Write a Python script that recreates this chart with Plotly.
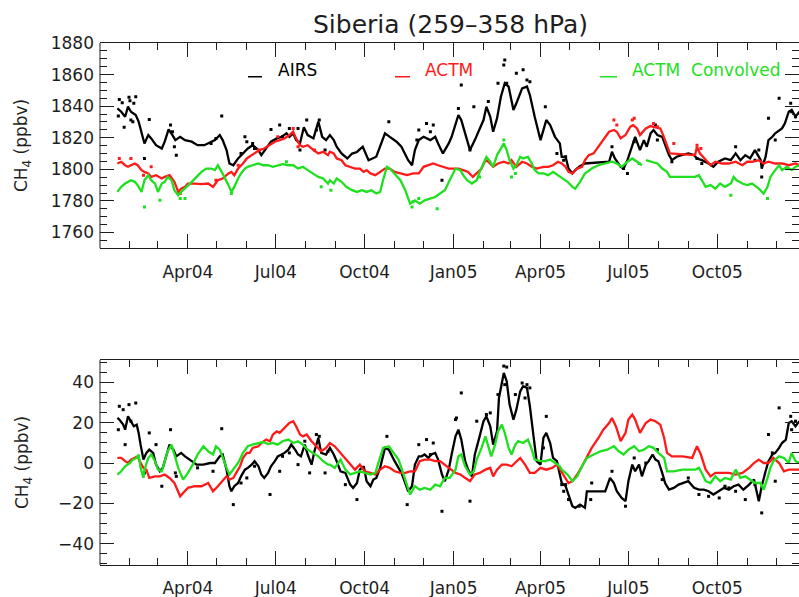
import pandas as pd
import plotly.graph_objects as go

# ---------------------------------------------------------------------------
# Data: days since 2004-01-01 and CH4 values (ppbv)
# ---------------------------------------------------------------------------
BASE = pd.Timestamp("2004-01-01")

# Upper panel: smoothed mixing ratios
TOP_AIRS_DAYS = [18, 22, 26, 29, 32, 37, 40, 44, 46, 50, 53, 58, 64, 67, 71, 75, 78, 83, 88, 95,
                 101, 108, 115, 119, 124, 127, 131, 134, 138, 143, 148, 153, 158, 164, 167, 172, 177, 183, 188, 193,
                 196, 200, 203, 207, 211, 215, 221, 226, 230, 234,
                 238, 242, 245, 250, 256, 261, 266, 272, 278, 286, 295, 300, 307, 312, 319, 323, 326, 330, 335, 342,
                 347, 350, 355, 361, 364, 371, 374, 380, 383, 388, 397, 400, 404, 407, 411, 415, 419, 423, 428, 431,
                 437, 442, 445, 450, 456, 462, 466, 471, 476,
                 478, 482, 485, 489, 492, 496, 502, 527, 530, 533, 539, 542, 546, 551, 554, 559, 563, 566, 570, 573,
                 577, 582, 585, 589, 592, 597, 602, 609, 615, 618, 623, 630, 635, 640, 647, 653, 658, 663, 668, 673,
                 678, 684, 685, 689, 692, 696, 699, 703, 706, 709, 713, 716, 720, 724]
TOP_AIRS_VALS = [1838.6, 1836.5, 1833.3, 1839.7, 1836.5, 1834.4, 1830.2, 1820.6, 1816.4, 1821.7,
                 1819.6, 1815.3, 1813.2, 1817.5, 1825.3, 1821.7, 1818.5, 1820.6, 1818.5, 1817.5,
                 1815.3, 1815.3, 1817.5, 1818.5, 1821.7, 1818.5, 1812.2, 1803.7, 1802.6, 1806.9,
                 1810.0, 1813.2, 1815.3, 1812.2, 1809.0, 1813.2, 1817.5, 1819.6, 1820.6, 1822.8,
                 1820.6, 1822.8, 1818.5, 1816.4, 1826.6, 1821.7, 1819.6, 1830.2, 1820.6, 1818.5,
                 1821.7, 1818.5, 1814.3, 1810.1, 1806.9, 1810.0, 1811.0, 1814.3, 1805.8, 1808.0,
                 1822.8, 1820.6, 1817.5, 1814.3, 1805.8, 1802.6, 1812.2, 1818.5, 1820.6, 1818.5,
                 1820.6, 1816.4, 1810.1, 1816.4, 1820.6, 1834.4, 1831.2, 1818.5, 1812.2, 1818.5,
                 1831.2, 1839.7, 1833.3, 1823.8, 1832.3, 1846.0, 1854.5, 1852.4, 1837.6, 1841.8,
                 1851.3, 1852.4, 1847.1, 1833.3, 1818.5, 1831.2, 1828.0, 1820.6, 1816.4,
                 1807.9, 1807.9, 1800.5, 1797.4, 1799.5, 1801.6, 1803.7, 1804.8, 1811.1, 1806.9,
                 1801.6, 1800.5, 1805.8, 1814.3, 1820.6, 1812.2, 1818.5, 1814.3, 1822.8, 1824.9,
                 1821.7, 1820.6, 1815.3, 1809.0, 1805.8, 1808.0, 1809.0, 1810.1, 1809.0, 1806.9,
                 1805.8, 1803.7, 1801.6, 1804.8, 1806.9, 1805.8, 1810.1, 1805.8, 1809.0, 1806.9,
                 1812.2, 1805.8, 1800.5, 1807.9, 1818.5, 1820.6, 1822.8, 1824.9, 1825.9, 1829.1,
                 1836.5, 1837.6, 1833.3, 1836.5]

TOP_ACTM_DAYS = [18, 22, 26, 29, 32, 36, 39, 43, 46, 50, 53, 58, 64, 67, 72, 77, 81, 84, 88, 91,
                 98, 105, 112, 117, 122, 127, 133, 136, 139, 143, 148, 152, 157, 160, 165, 170, 176, 181, 186, 191,
                 196, 200, 203, 207, 210, 215, 221, 226, 231, 236,
                 238, 242, 245, 250, 254, 259, 264, 269, 273, 276, 280, 285, 290, 295, 300, 305, 311, 318, 324, 330,
                 335, 340, 345, 350, 355, 361, 366, 371, 376, 381, 386, 392, 395, 399, 402, 407, 412, 418, 423, 426,
                 431, 437, 442, 447, 452, 459, 464, 469, 474,
                 478, 482, 485, 489, 494, 499, 502, 506, 511, 516, 521, 527, 532, 535, 539, 544, 549, 552, 556, 559,
                 565, 570, 575, 580, 583, 587, 590, 616, 618, 621, 627, 632, 637, 644, 651, 658, 665, 670, 675, 682,
                 687, 692, 699, 706, 713, 720, 724]
TOP_ACTM_VALS = [1803.7, 1804.8, 1802.6, 1801.6, 1802.6, 1803.7, 1802.6, 1799.5, 1798.4, 1797.4,
                 1795.2, 1796.3, 1794.2, 1795.2, 1796.3, 1792.1, 1785.7, 1787.8, 1788.9, 1791.0,
                 1791.0, 1790.6, 1791.0, 1788.9, 1793.1, 1794.2, 1797.4, 1798.4, 1796.3, 1800.5,
                 1803.7, 1806.9, 1809.0, 1810.1, 1812.2, 1813.2, 1815.3, 1817.5, 1818.5, 1819.6,
                 1821.7, 1823.8, 1819.6, 1815.3, 1814.3, 1815.3, 1812.2, 1810.1, 1811.1, 1809.0,
                 1811.1, 1810.1, 1806.9, 1805.8, 1802.6, 1801.6, 1800.5, 1800.5, 1798.4, 1799.5,
                 1797.4, 1796.3, 1798.4, 1800.5, 1800.5, 1798.4, 1797.4, 1796.3, 1797.4, 1797.4,
                 1801.6, 1802.6, 1803.7, 1802.6, 1801.6, 1800.5, 1800.5, 1800.5, 1799.5, 1798.4,
                 1795.2, 1798.4, 1800.5, 1805.8, 1804.8, 1801.6, 1803.7, 1804.8, 1803.7, 1805.8,
                 1801.6, 1804.8, 1803.7, 1801.6, 1800.5, 1801.6, 1801.6, 1802.6, 1804.8,
                 1803.7, 1801.6, 1798.4, 1797.4, 1800.5, 1801.6, 1805.8, 1809.0, 1810.1, 1814.3,
                 1818.5, 1823.8, 1824.9, 1823.8, 1819.6, 1821.7, 1827.0, 1828.0, 1825.9, 1821.7,
                 1825.9, 1827.4, 1826.6, 1825.9, 1821.7, 1814.3, 1810.1, 1809.0, 1814.3, 1810.1,
                 1805.8, 1802.6, 1804.8, 1803.7, 1803.7, 1804.8, 1802.6, 1804.8, 1804.8, 1805.8,
                 1803.7, 1804.8, 1803.7, 1803.7, 1802.6, 1803.7, 1802.6]

# None marks the break in the convolved record
TOP_CONV_DAYS = [18, 22, 26, 29, 32, 36, 39, 43, 46, 50, 53, 57, 60, 64, 67, 70, 74, 77, 81, 84,
                 89, 95, 100, 105, 110, 115, 119, 122, 126, 129, 133, 136, 139, 143, 146, 150, 153, 158, 164, 169,
                 174, 179, 184, 189, 195, 200, 205, 210, 215, 221, 226, 231, 236,
                 238, 242, 245, 250, 255, 261, 266, 271, 276, 281, 286, 290, 293, 297, 300, 305, 311, 316, 321, 326,
                 331, 336, 342, 347, 352, 357, 362, 368, 373, 376, 380, 385, 390, 393, 397, 400, 404, 407, 411, 414,
                 418, 421, 424, 428, 431, 435, 438, 443, 447, 450, 454, 459, 464, 469, 474,
                 478, 484, 489, 492, 497, 502, 509, 516, 523, 530, 535, 540, 546, 551, 556, 561, 563,
                 565, 572, 577, 582, 587, 590, 616, 620, 623, 627, 632, 637, 642, 647, 653, 656, 659, 665, 670, 675,
                 682, 687, 691, 694, 699, 703, 706, 711, 716, 720, 724]
TOP_CONV_VALS = [1785.7, 1788.9, 1791.0, 1792.1, 1793.1, 1792.1, 1790.0, 1785.7, 1793.1, 1796.3,
                 1793.1, 1791.0, 1785.7, 1791.0, 1792.1, 1795.2, 1793.1, 1786.8, 1783.6, 1785.7,
                 1788.9, 1792.1, 1795.2, 1798.4, 1800.5, 1800.5, 1799.5, 1802.6, 1798.4, 1795.2,
                 1790.0, 1785.7, 1788.9, 1794.2, 1797.4, 1800.5, 1801.6, 1802.6, 1803.7, 1802.6,
                 1802.6, 1801.6, 1802.6, 1803.3, 1802.6, 1802.6, 1800.5, 1801.6, 1799.5, 1797.4,
                 1795.2, 1794.2, 1791.0,
                 1793.1, 1791.0, 1794.2, 1792.1, 1788.9, 1786.8, 1785.7, 1786.8, 1785.7, 1786.8,
                 1784.7, 1785.7, 1793.1, 1801.6, 1800.5, 1797.4, 1793.1, 1786.8, 1778.3, 1780.4,
                 1778.3, 1780.4, 1781.5, 1782.5, 1784.7, 1786.8, 1793.1, 1800.5, 1799.5, 1796.3,
                 1793.1, 1791.0, 1793.1, 1798.4, 1803.7, 1807.9, 1804.8, 1801.6, 1809.0, 1812.2,
                 1816.4, 1812.2, 1805.8, 1800.5, 1802.6, 1807.9, 1806.9, 1807.9, 1803.7, 1799.5,
                 1797.4, 1797.4, 1796.3, 1798.4, 1796.3,
                 1794.2, 1792.1, 1788.9, 1787.8, 1792.1, 1797.4, 1800.5, 1802.6, 1803.7, 1804.8,
                 1803.7, 1801.6, 1804.8, 1806.9, 1804.8, 1802.6, None,
                 1805.8, 1804.8, 1803.7, 1800.5, 1798.4, 1795.2, 1795.2, 1796.3, 1793.1, 1788.9,
                 1790.0, 1787.8, 1791.0, 1788.9, 1791.0, 1795.2, 1793.1, 1791.0, 1790.0, 1791.0,
                 1787.8, 1784.7, 1788.9, 1795.2, 1799.5, 1802.6, 1799.5, 1801.6, 1799.5, 1801.6,
                 1802.6]

# Upper panel: individual daily values
TOP_AIRS_DOT_DAYS = [19, 20, 23, 25, 30, 31, 32, 34, 35, 37, 46, 51, 73, 75, 77, 79, 115, 120, 126, 146,
                     150, 152, 158, 160, 177, 186, 189, 196, 205, 207, 214, 224, 227, 233,
                     299, 328, 330, 338, 342, 345, 354, 371, 374, 383, 387, 402, 412, 418, 419, 421,
                     431, 438, 442, 445, 461, 473, 480,
                     482, 530, 542, 546, 553, 575, 577, 592, 618, 623, 658, 678, 682, 685, 692, 699,
                     703, 715, 716, 720]
TOP_AIRS_DOT_VALS = [1833.8, 1844.3, 1842.2, 1826.6, 1845.6, 1843.5, 1831.2, 1830.2, 1841.8, 1846.0,
                     1806.9, 1831.6, 1828.0, 1823.8, 1814.3, 1809.0, 1816.4, 1819.6, 1833.8, 1810.1,
                     1820.6, 1817.5, 1816.4, 1813.2, 1825.3, 1828.0, 1820.6, 1825.9, 1825.9, 1812.2,
                     1831.2, 1824.9, 1831.2, 1812.2,
                     1830.2, 1818.5, 1824.9, 1829.1, 1823.8, 1828.0, 1793.1, 1838.6, 1853.4, 1812.2,
                     1839.7, 1842.9, 1854.5, 1866.1, 1869.3, 1854.5, 1860.8, 1863.0, 1856.6, 1855.5,
                     1839.7, 1810.1, 1805.8,
                     1807.9, 1814.3, 1800.5, 1797.4, 1817.5, 1828.0, 1818.5, 1804.8, 1806.9, 1803.7,
                     1814.3, 1805.8, 1812.2, 1795.2, 1832.3, 1818.5, 1845.0, 1841.8, 1836.5, 1833.3]

TOP_ACTM_DOT_DAYS = [20, 32, 45, 53, 83, 120, 143, 164, 184, 200, 205, 222,
                     532, 535, 551, 553, 573, 577, 594, 618, 622]
TOP_ACTM_DOT_VALS = [1806.9, 1806.9, 1796.3, 1801.6, 1784.7, 1793.1, 1802.6, 1812.2, 1820.6, 1825.9,
                     1814.3, 1812.2,
                     1831.2, 1828.0, 1831.2, 1832.3, 1829.1, 1827.0, 1816.4, 1815.3, 1813.2]

TOP_CONV_DOT_DAYS = [46, 62, 83, 88, 136, 193, 229, 239, 323, 330, 349, 324, 418, 426, 430, 393,
                     653, 691, 558]
TOP_CONV_DOT_VALS = [1776.2, 1780.4, 1781.5, 1781.5, 1784.7, 1804.8, 1788.9, 1786.8, 1776.2, 1781.5,
                     1775.1, 1779.4, 1818.5, 1795.2, 1797.4, 1795.2, 1783.6, 1781.5, 1803.7]

# Lower panel: smoothed anomalies (ppbv)
BOT_AIRS_DAYS = [18, 20, 24, 26, 29, 32, 35, 38, 40, 42, 45, 48, 51, 55, 58, 62, 65, 69, 72, 76,
                 79, 84, 88, 95, 100, 107, 114, 119, 124, 127, 131, 134, 136, 139, 143, 146, 150, 153, 157, 160,
                 164, 167, 170, 174, 177, 181, 184, 188, 191, 195, 198, 202, 205, 208, 212, 215, 219, 222, 226, 229,
                 234,
                 238, 242, 245, 249, 254, 259, 262, 266, 269, 273, 276, 280, 283, 286, 290, 295, 299, 302, 305, 309,
                 312, 316, 319, 323, 326, 330, 333, 336, 340, 343, 347, 350, 354, 357, 361, 364, 368, 371, 374, 378,
                 381, 385, 388, 393, 397, 400, 404, 407, 411, 413, 418, 421, 424, 428, 431, 435, 438, 442, 445, 449,
                 452, 456, 459, 462, 466, 469, 473, 476,
                 478, 482, 485, 489, 492, 497, 502, 504, 523, 528, 532, 535, 540, 544, 547, 551, 554, 558, 561, 565,
                 568, 572, 575, 578, 582, 585, 589, 594, 599, 604, 609, 615, 620, 625, 630, 635, 641, 646, 651, 656,
                 661, 666, 672, 677, 682, 685, 689, 692, 696, 699, 703, 706, 710, 713, 716, 720, 724]
BOT_AIRS_VALS = [22.3, 21.5, 19.0, 16.5, 23.1, 20.7, 18.2, 19.0, 14.9, 9.1,
                 1.7, 5.0, 6.6, 5.0, -0.8, -4.1, -2.4, 4.2, 9.1, 6.6,
                 3.3, 5.0, 3.3, 0.9, -0.8, -0.8, 0.0, 0.0, 3.3, 4.2,
                 -3.3, -11.5, -14.0, -11.5, -9.9, -6.6, -3.3, -2.4, -0.8, 0.9,
                 -1.6, -5.7, -7.4, -4.9, -1.6, 0.9, 3.3, 4.2, 5.0, 6.6,
                 9.1, 6.6, 4.2, 3.3, 9.1, 4.2, -0.8, 5.8, 12.4, 5.0,
                 4.2,
                 7.5, 4.2, 0.9, -4.1, -4.9, -10.7, -12.3, -9.9, -3.3, -1.6,
                 -9.0, -11.5, -8.2, -7.4, -2.4, 7.5, 6.6, 3.3, 0.9, -2.4,
                 -4.9, -9.9, -14.0, -11.5, -0.8, 3.3, 3.3, 4.2, 2.5, 4.2,
                 5.0, 1.7, -5.7, -9.0, -3.3, 4.2, 13.2, 16.5, 11.6, 0.9,
                 -3.3, -6.6, 4.2, 13.2, 20.7, 23.1, 18.2, 9.1, 15.7, 32.2,
                 44.6, 40.5, 28.9, 21.5, 26.4, 35.5, 38.0, 37.2, 28.1, 12.4,
                 0.9, -0.8, 12.4, 14.9, 9.9, 2.5, 0.9, -5.7,
                 -9.9, -11.5, -15.6, -21.4, -22.2, -20.6, -22.2, -14.0, -14.0, -7.4,
                 -9.9, -14.0, -17.3, -18.9, -9.0, -0.8, -4.1, -0.8, -6.6, -0.8,
                 0.9, 4.2, 1.7, 0.9, -4.9, -9.9, -13.2, -12.3, -10.7, -9.9,
                 -9.0, -12.3, -13.2, -13.2, -14.0, -15.6, -14.0, -12.3, -13.2, -11.5,
                 -10.7, -13.2, -10.7, -8.2, -18.9, -11.5, -4.1, 0.9, 4.2, 5.0,
                 7.5, 9.9, 11.6, 19.8, 20.7, 18.2, 20.7]

BOT_ACTM_DAYS = [18, 22, 26, 29, 32, 36, 39, 41, 45, 48, 51, 57, 62, 67, 72, 77, 83, 86, 91, 98,
                 105, 112, 117, 122, 127, 131, 134, 138, 141, 145, 148, 152, 155, 158, 164, 167, 172, 176, 179, 183,
                 186, 189, 193, 196, 200, 203, 207, 210, 214, 219, 224, 229, 234,
                 238, 243, 249, 254, 259, 264, 269, 274, 280, 285, 290, 295, 300, 305, 311, 316, 321, 326, 331, 336,
                 342, 347, 352, 357, 362, 368, 373, 378, 383, 388, 393, 399, 404, 407, 411, 416, 421, 426, 431, 435,
                 440, 445, 450, 456, 462, 468, 473,
                 478, 482, 485, 489, 494, 499, 504, 509, 516, 521, 527, 530, 534, 539, 544, 547, 551, 554, 559, 565,
                 570, 575, 580, 584, 587, 592, 603, 613, 618, 622, 627, 632, 637, 644, 651, 658, 665, 672, 677, 682,
                 687, 692, 697, 703, 708, 713, 720, 724]
BOT_ACTM_VALS = [2.5, 2.5, 0.9, 0.0, 1.7, 2.5, 3.3, 0.9, -2.4, -3.3,
                 -7.4, -6.6, -6.6, -5.7, -7.4, -9.9, -16.5, -14.8, -12.3, -11.5,
                 -11.5, -9.9, -14.0, -11.5, -9.0, -6.6, -8.2, -7.4, -4.9, -1.6,
                 2.5, 5.0, 5.0, 7.5, 8.3, 9.9, 11.6, 10.8, 14.1, 15.7,
                 14.9, 16.5, 18.2, 19.8, 20.7, 18.2, 14.1, 13.2, 14.1, 10.8,
                 8.3, 5.8, 7.5,
                 9.9, 8.3, 5.0, 2.5, -0.8, -3.3, -0.8, -4.1, -4.9, -5.7,
                 -3.3, -1.6, -2.4, -4.1, -4.9, -4.9, -4.1, -4.1, 0.9, 1.7,
                 1.7, 0.9, 0.9, -0.8, -2.4, -4.9, -5.7, -7.4, -9.0, -5.7,
                 -4.9, -3.3, -2.4, -6.6, -3.3, -0.8, -0.8, -1.6, 0.9, 2.5,
                 -0.8, -4.9, -4.9, -2.4, -3.3, -2.4, -0.8,
                 -4.5, -7.4, -9.9, -9.0, -5.7, -1.6, 3.3, 7.5, 12.4, 16.5,
                 19.8, 22.3, 18.2, 10.8, 14.9, 21.5, 24.0, 21.5, 14.9, 19.8,
                 21.5, 20.7, 19.0, 12.4, 5.0, 3.3, 3.3, 2.5, 8.3, 4.2,
                 -3.3, -6.6, -4.9, -4.9, -4.9, -5.7, -4.9, -2.4, 0.0, 1.7,
                 0.0, 0.0, 2.5, 0.0, -4.1, -3.3, -3.3, -3.3]

BOT_CONV_DAYS = [18, 22, 26, 31, 34, 38, 40, 42, 45, 46, 50, 53, 57, 60, 64, 67, 70, 74, 77, 81,
                 86, 91, 96, 101, 107, 112, 117, 120, 124, 127, 131, 134, 138, 143, 148, 153, 158, 164, 169, 174,
                 179, 184, 189, 195, 200, 205, 210, 215, 221, 226, 231, 236,
                 238, 243, 249, 254, 259, 264, 269, 274, 280, 285, 290, 293, 299, 304, 309, 312, 318, 321, 326, 331,
                 336, 342, 347, 352, 357, 362, 368, 371, 374, 378, 383, 387, 390, 395, 399, 402, 405, 409, 412, 416,
                 419, 423, 426, 430, 433, 438, 443, 447, 450, 456, 461, 466, 471, 476,
                 478, 484, 489, 494, 499, 504, 511, 518, 525, 532, 537, 542, 547, 553, 558, 563, 568, 573, 578, 584,
                 587, 594, 603, 611, 616, 620, 623, 627, 632, 637, 642, 647, 653, 658, 663, 668, 673, 678, 684, 687,
                 691, 694, 697, 703, 708, 713, 716, 720, 724]
BOT_CONV_VALS = [-5.7, -4.1, -1.6, 0.0, 1.7, 2.5, 4.2, -2.4, -7.4, -3.3,
                 2.5, 4.2, 0.9, -3.3, -4.1, 0.9, 5.8, 9.1, 4.2, -2.4,
                 -8.2, -4.9, -0.8, 4.2, 8.3, 5.8, 4.2, 8.3, 6.6, 2.5,
                 -2.4, -5.7, -3.3, 0.0, 5.0, 8.3, 9.1, 9.9, 10.4, 9.4,
                 9.9, 9.1, 10.8, 11.6, 9.9, 10.8, 9.1, 6.6, 5.0, 3.3,
                 0.9, -0.8,
                 -0.8, -2.4, 1.7, -3.3, -5.7, -4.9, -4.1, -4.9, -5.7, -4.9,
                 2.5, 7.5, 8.3, 5.0, 1.7, -2.4, -10.7, -15.6, -11.5, -13.2,
                 -12.3, -13.2, -10.7, -11.5, -7.4, -7.4, -3.3, 3.3, 4.2, -1.6,
                 -5.7, -4.1, 1.7, 7.5, 13.2, 7.5, 3.3, 9.1, 15.7, 19.0,
                 14.9, 7.5, 4.2, 9.1, 10.8, 9.9, 11.6, 6.6, 1.7, 0.9,
                 0.9, 1.7, 0.0, -1.6,
                 -3.3, -5.7, -9.0, -6.6, -1.6, 2.5, 4.2, 5.8, 6.6, 8.3,
                 5.8, 4.2, 6.6, 8.3, 5.8, 6.6, 8.3, 7.5, 5.0, 2.5,
                 -4.1, -4.1, -3.3, -3.3, -3.3, -2.4, -4.9, -9.0, -9.9, -6.6,
                 -9.0, -7.4, -8.2, -3.3, -7.4, -6.6, -8.2, -9.9, -9.9, -13.2,
                 -7.4, -2.4, 0.9, 3.3, 2.5, 0.0, 5.0, 0.9, 0.0]

# Lower panel: individual daily AIRS anomalies
BOT_AIRS_DOT_DAYS = [20, 24, 30, 37, 32, 26, 19, 46, 51, 58, 64, 73, 78, 79, 126, 117, 101, 138, 146, 152,
                     160, 176, 186, 189, 196, 205, 212, 217, 224, 227, 233, 236,
                     297, 330, 338, 345, 342, 354, 368, 369, 374, 383, 390, 400, 404, 412, 418, 421, 419, 430,
                     437, 442, 445, 440, 462, 459, 478, 480, 318, 254, 266,
                     482, 485, 496, 508, 509, 530, 544, 553, 565, 577, 582, 609, 620, 630, 641, 651, 658, 668,
                     678, 685, 692, 699, 703, 715, 716, 720, 696, 647]
BOT_AIRS_DOT_VALS = [28.1, 26.4, 28.9, 29.7, 20.7, 9.1, 16.5, -4.9, 14.9, 9.1, -11.5, 16.5, -4.9, -6.6,
                     17.0, -4.1, -2.4, -20.6, -9.9, -7.4, -1.6, -15.6, -4.1, 3.3, 5.0, -0.8, 10.8, -4.9,
                     14.1, 13.2, -4.9, 5.8,
                     13.2, 9.1, 11.6, 9.9, 4.2, -23.9, 21.5, 22.3, 34.7, -18.9, 20.7, 24.0, 24.8, 33.9,
                     48.0, 47.5, 38.8, 33.9, 39.6, 38.8, 37.2, 32.2, 23.1, 7.5, -10.7, -14.0, -20.6, -10.7,
                     -18.1,
                     -10.7, -18.1, -21.4, -18.1, -9.9, -4.1, -21.4, 2.5, 0.0, 6.6, -8.2, -7.4, -15.6, -16.5,
                     -17.3, -12.3, -14.0, -18.1, -10.7, -24.7, 14.1, -9.0, 27.3, 23.1, 16.5, 20.7, 5.0, -11.5]

# Axis labelling
QUARTER_TICKS = ["2004-04-01", "2004-07-01", "2004-10-01", "2005-01-01",
                 "2005-04-01", "2005-07-01", "2005-10-01"]
QUARTER_LABELS = ["Apr04", "Jul04", "Oct04", "Jan05", "Apr05", "Jul05", "Oct05"]
MONTH_TICKS = [f"{y}-{m:02d}-01" for y in (2004, 2005) for m in range(1, 13)]

TITLE = "Siberia (259\u2013358 hPa)"
SERIES_NAMES = ["AIRS", "ACTM", "ACTM\u00a0 Convolved"]
COLORS = ["#000000", "#ff1a1a", "#1ee01e"]


def to_dates(days):
    return [BASE + pd.Timedelta(days=d) for d in days]


FONT = "DejaVu Sans"
INK = "#1e1e1e"
X_END = BASE + pd.Timedelta(days=723.6)

fig = go.Figure()


def add_dots(days, vals, color, axes):
    fig.add_trace(go.Scatter(
        x=to_dates(days), y=vals, mode="markers", xaxis=axes[0], yaxis=axes[1],
        marker=dict(symbol="square", size=3, color=color, line=dict(width=0)),
        hoverinfo="skip", showlegend=False))


def add_line(days, vals, color, axes, width=2.3):
    fig.add_trace(go.Scatter(
        x=to_dates(days), y=vals, mode="lines", xaxis=axes[0], yaxis=axes[1],
        line=dict(color=color, width=width), connectgaps=False, showlegend=False))


top = ("x", "y")
bot = ("x2", "y2")

add_dots(TOP_AIRS_DOT_DAYS, TOP_AIRS_DOT_VALS, COLORS[0], top)
add_line(TOP_AIRS_DAYS, TOP_AIRS_VALS, COLORS[0], top)
add_dots(TOP_ACTM_DOT_DAYS, TOP_ACTM_DOT_VALS, COLORS[1], top)
add_line(TOP_ACTM_DAYS, TOP_ACTM_VALS, COLORS[1], top)
add_dots(TOP_CONV_DOT_DAYS, TOP_CONV_DOT_VALS, COLORS[2], top)
add_line(TOP_CONV_DAYS, TOP_CONV_VALS, COLORS[2], top)

add_dots(BOT_AIRS_DOT_DAYS, BOT_AIRS_DOT_VALS, COLORS[0], bot)
add_line(BOT_AIRS_DAYS, BOT_AIRS_VALS, COLORS[0], bot)
add_line(BOT_ACTM_DAYS, BOT_ACTM_VALS, COLORS[1], bot)
add_line(BOT_CONV_DAYS, BOT_CONV_VALS, COLORS[2], bot)

tick_font = dict(family=FONT, size=17, color=INK)


def x_axis(anchor):
    return dict(
        type="date", range=[BASE, X_END], anchor=anchor, domain=[0, 1],
        tickmode="array", tickvals=QUARTER_TICKS, ticktext=QUARTER_LABELS,
        ticks="inside", ticklen=14, tickwidth=1, tickcolor=INK,
        showline=True, linecolor=INK, linewidth=1, mirror="ticks",
        showgrid=False, zeroline=False, tickfont=tick_font, ticklabelstandoff=8,
        minor=dict(tickmode="array", tickvals=MONTH_TICKS, ticks="inside", ticklen=7,
                   tickwidth=1, tickcolor=INK, showgrid=False),
    )


def y_axis(anchor, rng, domain, dtick):
    return dict(
        range=rng, anchor=anchor, domain=domain, dtick=dtick, tickmode="linear",
        ticks="inside", ticklen=14, tickwidth=1, tickcolor=INK,
        showline=False, mirror="ticks",
        showgrid=False, zeroline=False, tickfont=tick_font, ticklabelstandoff=5,
        minor=dict(dtick=5, ticks="inside", ticklen=7, tickwidth=1, tickcolor=INK, showgrid=False),
    )


TOP_DOMAIN = [0.6067, 1.0]
BOT_DOMAIN = [0.0, 0.3927]

fig.update_layout(
    width=799, height=597,
    margin=dict(l=100, r=0, t=43, b=32),
    paper_bgcolor="white", plot_bgcolor="white",
    showlegend=False,
    xaxis=x_axis("y"),
    yaxis=y_axis("x", [1750, 1880], TOP_DOMAIN, 20),
    xaxis2=x_axis("y2"),
    yaxis2=y_axis("x2", [-50.5, 51], BOT_DOMAIN, 20),
    font=dict(family=FONT, color=INK),
)

# left frame edges of both panels
for xr, yr in (("x domain", "y domain"), ("x2 domain", "y2 domain")):
    fig.add_shape(type="line", xref=xr, yref=yr, x0=0, x1=0, y0=0, y1=1,
                  line=dict(color=INK, width=1))

# title
fig.add_annotation(text=TITLE, xref="paper", yref="paper", x=0.502, y=1.0345,
                   xanchor="center", yanchor="middle", showarrow=False,
                   font=dict(family=FONT, size=25, color=INK))

# y-axis titles
for yc in (0.8027, 0.1954):
    fig.add_annotation(text="CH<sub>4</sub> (ppbv)", xref="paper", yref="paper",
                       x=-0.110, y=yc, textangle=-90, xanchor="center", yanchor="middle",
                       showarrow=False, font=dict(family=FONT, size=17, color=INK))

# in-panel key
KEY_DASH_X = [(0.2117, 0.2318), (0.422, 0.4435), (0.7153, 0.7396)]
KEY_TEXT_X = [0.2518, 0.462, 0.7582]
for name, color, (d0, d1), tx in zip(SERIES_NAMES, COLORS, KEY_DASH_X, KEY_TEXT_X):
    fig.add_shape(type="line", xref="x domain", yref="y domain", x0=d0, x1=d1,
                  y0=0.8356, y1=0.8356, line=dict(color=color, width=1.5))
    fig.add_annotation(text=name, xref="x domain", yref="y domain", x=tx, y=0.8698,
                       xanchor="left", yanchor="middle", showarrow=False,
                       font=dict(family=FONT, size=17, color=color))

fig.write_html("out.html")
